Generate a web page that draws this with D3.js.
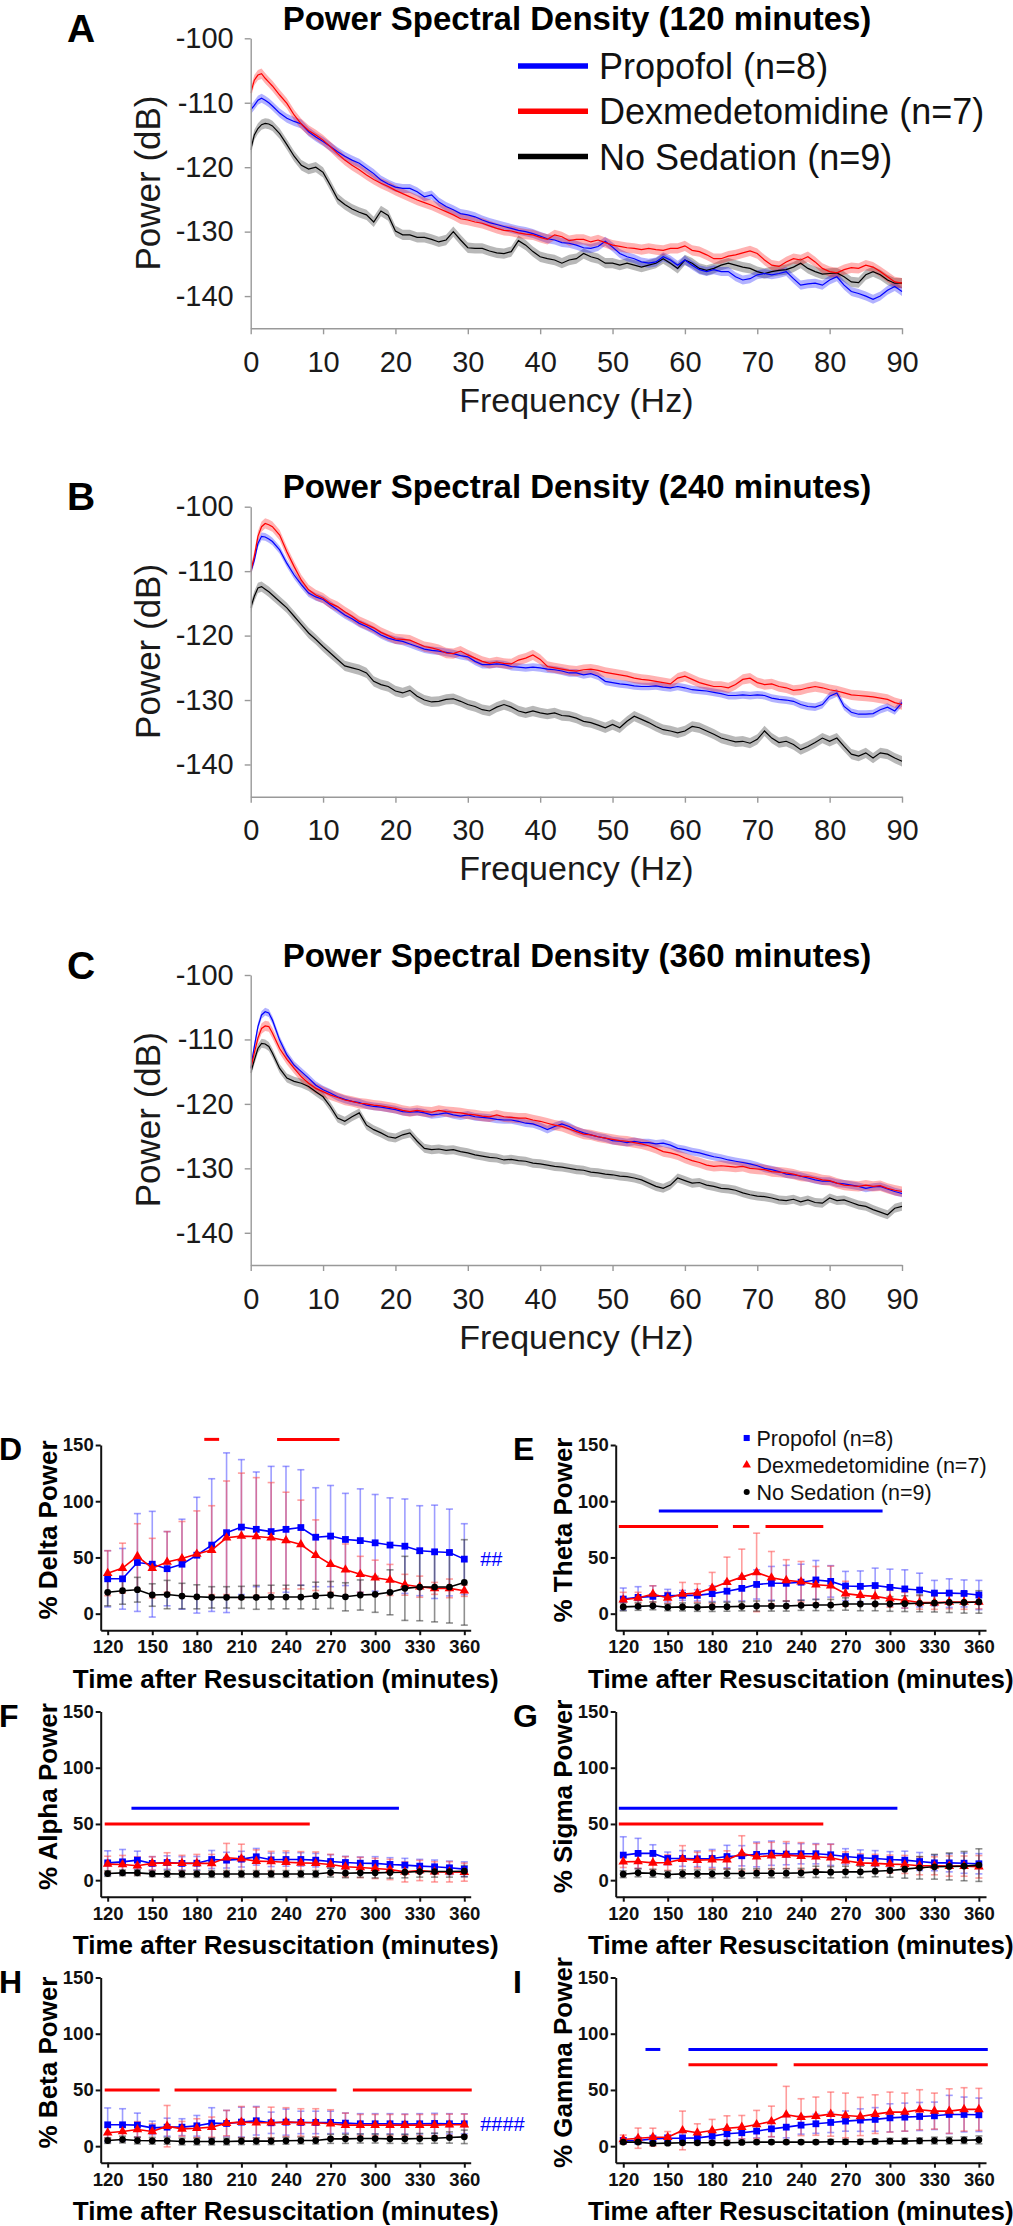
<!DOCTYPE html>
<html><head><meta charset="utf-8">
<script src="https://cdn.jsdelivr.net/npm/d3@7"></script>
<style>body{margin:0;background:#fff}svg{display:block}</style>
</head><body><div id="chart"></div>
<script>
const FONT = "'Liberation Sans', Arial, Helvetica, sans-serif";

// ---------- PSD data ----------
const freqs = [0,0.5,1,1.5,2,2.5,3,4,5,6,7,8,9,10,11,12,13,14,15,16,17,18,19,20,21,22,23,24,25,26,27,28,29,30,31,32,33,34,35,36,37,38,39,40,41,42,43,44,45,46,47,48,49,50,51,52,53,54,55,56,57,58,59,60,61,62,63,64,65,66,67,68,69,70,71,72,73,74,75,76,77,78,79,80,81,82,83,84,85,86,87,88,89,90];
const psdXTicks = [0,10,20,30,40,50,60,70,80,90];
const psdYTicks = [-100,-110,-120,-130,-140];
const groupNames = ["Propofol (n=8)", "Dexmedetomidine (n=7)", "No Sedation (n=9)"];
const psdTitles = ["Power Spectral Density (120 minutes)", "Power Spectral Density (240 minutes)", "Power Spectral Density (360 minutes)"];

const psdProp120 = [-111.1,-110.4,-109.6,-109.3,-109.6,-110,-110.5,
-111.6,-112.4,-112.9,-113.3,-114.5,-115.3,-116,
-116.8,-117.6,-118.3,-118.9,-119.4,-120.2,-121,-122,-122.6,-123.1,
-123.3,-123.3,-123.8,-124.6,-124.3,-125.4,-126.1,-126.6,-127.2,-127.4,
-127.7,-128.2,-128.6,-128.9,-129.2,-129.5,-129.8,-130,-130.3,-130.7,
-131.1,-131.3,-131.7,-131.8,-132.1,-132.5,-132.6,-132.3,-131.5,-132.4,
-133.4,-133.9,-134.2,-134.7,-134.9,-134.7,-133.9,-134.4,-135.2,-134.4,
-135.2,-135.9,-136.2,-135.9,-136.2,-136.2,-137,-137.5,-137.3,-136.7,
-136.5,-136.7,-136.5,-136.2,-137.3,-138.3,-138.1,-138,-138.3,-137.5,
-137,-138.3,-139.3,-139.6,-140,-140.5,-140,-139.1,-138.5,-139.3];
const psdDex120 = [-108.5,-106.5,-105.7,-105.5,-106.2,-106.8,-107.4,
-108.8,-110.1,-111.9,-113.3,-114.3,-115,-115.8,
-116.8,-117.9,-118.9,-119.7,-120.4,-121.2,-121.9,-122.5,-123,-123.6,
-124.1,-124.6,-125.1,-125.5,-125.9,-126.4,-126.9,-127.4,-128,-128.2,
-128.5,-128.7,-129.1,-129.5,-129.8,-129.9,-130.2,-130.4,-130.5,-130.9,
-131.2,-130.5,-130.8,-131.4,-131.2,-131.2,-131.6,-131.3,-131.7,-132.1,
-132.3,-132.5,-132.6,-132.8,-132.6,-132.8,-132.9,-132.6,-132.6,-132.2,
-132.9,-133.1,-133.6,-134.2,-134.2,-133.8,-133.6,-133.3,-133,-133.4,
-134.4,-135.2,-135.4,-134.7,-134.2,-134.4,-133.9,-134.7,-135.7,-136.2,
-136.4,-135.9,-135.6,-135.7,-135.2,-135.5,-136.2,-137,-137.8,-138];
const psdNoSed120 = [-117.3,-115,-114,-113.4,-113.2,-113.3,-113.6,
-114.8,-116.5,-118.3,-119.7,-120.3,-120,-120.8,
-122.8,-124.9,-125.8,-126.5,-127,-127.4,-128.5,-126.8,-127.5,-129.9,
-130.5,-130.5,-130.9,-130.9,-131.2,-131.6,-131.3,-130,-131.3,-132.5,
-132.6,-132.6,-133,-133.3,-133.4,-133.1,-131.4,-132.1,-133.1,-133.9,
-134.2,-134.4,-134.9,-134.4,-134.2,-133.4,-133.9,-134.2,-134.9,-134.9,
-135.2,-134.9,-135.2,-135.5,-135.2,-134.9,-134.2,-134.9,-135.7,-134.4,
-134.9,-135.7,-136,-135.7,-135.2,-134.9,-135.2,-135.5,-135.7,-136.2,
-136.5,-136.2,-136,-135.9,-135.5,-134.9,-135.7,-136.2,-136.6,-136.5,
-136.4,-137,-137.8,-137.9,-136.7,-136.2,-136.7,-137.5,-138,-138];

const psdProp240 = [-110.1,-108.3,-105.7,-104.6,-104.7,-105,-105.4,
-106.7,-108.8,-110.6,-112.1,-113.4,-114,-114.4,
-115.2,-116,-116.8,-117.4,-118.1,-118.6,-119.2,-119.9,-120.4,-120.7,
-120.9,-121.3,-121.7,-122.1,-122.3,-122.4,-122.6,-122.8,-123.1,-123.3,
-124,-124.5,-124.5,-124.4,-124.5,-124.8,-124.9,-125,-124.9,-125,
-125.2,-125.3,-125.5,-125.8,-125.8,-126.1,-125.9,-126.3,-127.1,-127.3,
-127.5,-127.6,-127.8,-127.9,-127.9,-127.8,-128,-128.1,-127.9,-128.1,
-128.4,-128.5,-128.6,-128.8,-129,-129.3,-129.3,-129.2,-129.3,-129.2,
-129.3,-129.7,-129.9,-130,-130.2,-130.7,-131,-131.1,-130.7,-129.4,
-128.9,-131,-131.9,-132.2,-132.2,-132.1,-131.5,-131.1,-131.7,-130.4];
const psdDex240 = [-110.1,-107.7,-104.6,-103.1,-102.6,-102.8,-103.1,
-104.4,-107,-109.3,-111.4,-112.9,-113.7,-114.2,
-115,-115.5,-116.3,-117,-117.8,-118.3,-118.8,-119.5,-120,-120.5,
-120.6,-120.7,-121.2,-121.7,-121.9,-122.2,-122.7,-122.8,-122.4,-123,
-123.5,-124,-124.3,-124.1,-124.3,-124.4,-123.8,-123.5,-123,-123.7,
-124.8,-125,-125.2,-125.4,-125.5,-125.3,-125.2,-125.4,-125.7,-125.9,
-126.1,-126.3,-126.6,-126.8,-126.9,-127.1,-127.3,-127.5,-126.6,-126.3,
-126.8,-127.3,-127.6,-127.9,-127.9,-128.1,-127.6,-126.8,-126.6,-127.3,
-127.6,-127.5,-127.9,-128.1,-128.5,-128.4,-128.1,-127.9,-128.1,-128.4,
-128.6,-128.9,-129.2,-129.3,-129.4,-129.5,-129.7,-129.9,-130.4,-130.7];
const psdNoSed240 = [-115.7,-113.9,-112.6,-112.4,-112.8,-113.2,-113.7,
-114.7,-115.7,-117,-118.3,-119.6,-120.6,-121.7,
-122.7,-123.7,-124.7,-125,-125.3,-125.8,-127.1,-127.6,-127.9,-128.6,
-128.9,-128.5,-129.4,-130,-130.3,-130.2,-129.9,-129.8,-130.2,-130.7,
-131,-131.5,-131.7,-131.1,-130.7,-131.1,-131.7,-132,-131.7,-132,
-132.2,-132,-132.4,-132.5,-132.8,-133.3,-133.5,-133.9,-134.3,-133.8,
-134.3,-133.3,-132.5,-133,-133.5,-134.1,-134.6,-134.8,-135.1,-134.8,
-134.1,-134.3,-134.8,-135.3,-135.9,-136.2,-136.5,-136.4,-136.7,-136.1,
-134.8,-135.9,-136.6,-136.4,-136.9,-137.7,-137.2,-136.6,-135.9,-136.4,
-135.9,-137.2,-138.4,-138.7,-138.2,-139,-138.2,-138.4,-139,-139.5];

const psdProp360 = [-114.5,-111.1,-108,-106.2,-105.7,-105.9,-107,
-110.1,-112.4,-114,-115,-116,-117.1,-117.8,
-118.3,-118.9,-119.3,-119.6,-119.8,-120.2,-120.4,-120.5,-120.7,-120.9,
-121.2,-121.3,-121.2,-121.4,-121.7,-121.6,-121.4,-121.7,-121.9,-121.7,
-122,-122.1,-122.2,-122.4,-122.5,-122.5,-122.7,-123,-123.1,-123.5,
-124,-123.5,-123.1,-123.5,-124.1,-124.5,-124.8,-125.1,-125.3,-125.7,
-125.8,-126,-125.8,-126,-126,-126.2,-126.1,-126.4,-126.9,-127.1,
-127.4,-127.6,-127.9,-128.2,-128.4,-128.7,-128.9,-129.1,-129.3,-129.6,
-130,-130.2,-130.5,-130.9,-131,-131.2,-131.5,-131.8,-132,-132,
-132.3,-132.4,-132.6,-132.8,-133.1,-132.9,-132.8,-133.2,-133.6,-133.9];
const psdDex360 = [-114.5,-112.1,-109.8,-108.3,-107.9,-108,-109,
-111.4,-113.1,-114.5,-115.8,-116.8,-117.6,-118.1,
-118.6,-119,-119.4,-119.6,-119.9,-120,-120.2,-120.3,-120.5,-120.7,
-121,-121.2,-121,-121.2,-121.3,-121,-121.2,-121.3,-121.4,-121.6,
-121.7,-121.9,-122,-121.7,-122,-122.1,-122.2,-122.2,-122.5,-122.7,
-123,-123.3,-123.5,-123.9,-124.3,-124.7,-124.8,-125.1,-125.3,-125.5,
-125.7,-125.8,-126,-126.2,-126.5,-126.9,-127.4,-127.6,-127.9,-128.4,
-128.8,-129.1,-129.5,-129.7,-129.6,-129.7,-129.8,-129.7,-130,-130.1,
-130.2,-130.5,-130.6,-130.7,-130.9,-131.2,-131.3,-131.5,-131.8,-131.9,
-132.3,-132.6,-132.7,-132.8,-132.6,-132.8,-132.7,-133.1,-133.4,-133.6];
const psdNoSed360 = [-115.2,-113.2,-111.4,-110.6,-110.7,-111.1,-112.1,
-114.5,-116,-116.5,-116.8,-117.3,-118.1,-118.9,
-120.4,-122.2,-122.7,-122,-121.4,-123.3,-124,-124.5,-125.1,-125.3,
-124.8,-124.5,-125.8,-126.9,-127.1,-127,-127.2,-127.1,-127.4,-127.6,
-127.9,-128.1,-128.3,-128.4,-128.7,-128.6,-128.8,-128.9,-129.2,-129.3,
-129.5,-129.7,-129.8,-130,-130.2,-130.3,-130.6,-130.7,-130.9,-131,
-131.2,-131.3,-131.5,-131.8,-132.3,-132.8,-133.1,-132.6,-131.5,-131.9,
-132.3,-132.2,-132.6,-132.8,-133.1,-133.2,-133.4,-133.8,-134.1,-134.3,
-134.4,-134.6,-134.9,-135,-134.8,-135.2,-134.9,-135.3,-135.4,-134.6,
-135,-134.9,-135.3,-135.7,-135.9,-136.4,-136.8,-137.2,-136.2,-135.9];

// SEM half-width of shaded band (dB) per time point: [120, 240, 360]
const psdSemProp = [0.7, 0.6, 0.6];
const psdSemDex = [0.8, 0.8, 0.8];
const psdSemNoSed = [0.8, 0.8, 0.7];

// ---------- band power data ----------
const timePoints = [120,130,140,150,160,170,180,190,200,210,220,230,240,250,260,270,280,290,300,310,320,330,340,350,360];
const bandXTicks = [120,150,180,210,240,270,300,330,360];
const bandYTicks = [0,50,100,150];

const deltaPropMean = [31,31,45.5,44,40,44,52,61,72,77,75,73,75,76.6,68,69,66,65,63,61,60,56,55,54.4,48.5];
const deltaPropSD = [25,27,43.5,47,33,40,51.5,59,71,60,51,58,56,51.4,44,45,41,46,43,42,42,40,41.5,38.6,31.5];
const deltaDexMean = [36,40.5,51,40.5,46,49,53,56.5,67.5,69,68.6,67.5,65,61.5,52,44,39,35,32,30,25.7,24,22.5,22.5,20.4];
const deltaDexSD = [20,22.2,29,26.5,27,33,38.4,39.5,50.5,56,52.4,49.1,43,39.5,31.4,25,23,16,15.6,13.8,9.3,9.4,5.3,8.3,5];
const deltaNoSedMean = [19,20.4,21.3,16.6,17,15.7,15,14.5,14.5,14.5,14.5,14.8,14.8,14.8,16,16.6,15,16.6,17.2,19,22.5,23.7,23.7,23.7,27.8];
const deltaNoSedSD = [12,12,11,10,12.6,11.3,10.7,9.5,9.5,9.8,10.6,10.5,10.5,10.5,12,12,12.5,13.4,16,20,28.5,30,31,32,38];

const thetaPropMean = [13,14.5,15.4,16,16.3,16.3,17.8,20,22.5,26,27,27,28,30,28.7,24.6,24.3,25,23.4,22,21,18.3,18.3,18,16.6];
const thetaPropSD = [9.8,9.5,9.4,5.6,4.4,5,7,9,11,13,15,16,16,17.3,14,13,13.7,15.5,16.2,17,15,11.3,12.7,12,13];
const thetaDexMean = [12.4,14,17.5,14,17.5,18.3,22.8,28,32.5,36.7,32,29.6,28.4,25.7,24.8,17.8,16.3,15.4,13.3,12,10,9.8,10.4,10.4,10.4];
const thetaDexSD = [6.6,5,7.3,5,10.3,8.3,13.9,22.3,24.9,34.9,23.3,18.4,18,16.3,17.5,11,8,8,7.5,7,6,6,6,6.5,6];
const thetaNoSedMean = [6,6.5,7,5.6,6,5.6,6,6.2,6.5,6.8,6.8,6.8,7.4,7.7,7.7,8.6,8.6,8.6,8.6,8.9,9.2,9.5,10,10,10.4];
const thetaNoSedSD = [3.5,3.5,3.5,3,3.5,3.5,4,4,4,4.5,4.5,4.5,4.5,5,5,5.5,6,6,6.5,7,7.5,8,9,9.5,10];

const alphaPropMean = [15.4,16.3,17.8,14.9,15.7,14.9,15.1,18.4,17.8,18.7,20.8,18.1,18.4,18.4,17.8,16.6,15.7,15.1,14.9,14,13.4,12.5,11.9,11,9.8];
const alphaPropSD = [10.7,11,8,6,6,6,6,8,7,7,7.4,6,6,6,6,6,5.5,5.5,6,6,6,6,6,6,6.5];
const alphaDexMean = [14.3,14,12.8,14.9,15.4,15.1,14.9,14.9,19.9,19,16.9,16.6,16,15.4,15.1,14,11.9,11.3,10.4,9.5,7.4,8.6,7.4,7.4,7.1];
const alphaDexSD = [7,8,8,6,9,7,8,8,12.8,13,10,9,10,10,10,9,9,9,9,9,9,9,9,9,8];
const alphaNoSedMean = [5.9,6.5,6.5,5.6,5.6,5.5,5.5,5.5,5.5,5.5,5.5,5.5,5.5,5.5,5.5,6.8,6.2,6.5,6.5,6.8,7.1,7.7,7.7,7.7,8];
const alphaNoSedSD = [2.5,2.5,2.5,2.5,3,3,3,3,3,3,3,3,3,3,3,4,4,4,4.5,5,5,5,5,5,5];

const sigmaPropMean = [22.3,23.8,23.8,19.3,19.3,19,19.3,21,21.7,22.9,24,23.2,23.5,23.5,22.6,21,19.9,19.3,18.4,17.8,16.6,15.4,15.4,15.1,14.6];
const sigmaPropSD = [16.3,13.4,7.7,5.7,7,7,8,10,9,11,10.8,9.5,9,9,9.5,7,7,7,7,8,8,7,8,9,9];
const sigmaDexMean = [16.3,16.6,15.4,15.7,18.7,17.8,18.1,18.1,23.8,20.8,21.7,22.3,21.4,20.8,19.9,17.2,15.4,14.9,14.3,14,12.8,12.8,12.5,12.5,11.9];
const sigmaDexSD = [5,6,6,7,12,7,8,8,15.7,12,12,12,12,11,12,8,8,8,8,8,8,8,9,9,10];
const sigmaNoSedMean = [5.3,6.5,6.2,5,5.6,5.6,5.6,5.9,5.9,6.2,6.2,6.2,6.5,7.4,7.1,7.4,7.4,8,8.6,9.8,11,11.9,12.2,12.5,13.4];
const sigmaNoSedSD = [3,3.5,3.5,3,3.5,3.5,3.5,4,4,4,4,4,4,5,5,5,5,5,6,8,10,11,12,13,14.5];

const betaPropMean = [19,19,18.7,16.3,16.9,16.9,18.1,20.5,20.2,21.4,22.6,20.8,21.4,21.1,21.1,21.1,20.5,19.9,19.9,19.9,19.6,19.9,20.2,19.9,19.9];
const betaPropSD = [15,14.3,10.7,6,8,7.5,9.2,13.7,11.6,13.3,12.7,9.5,11.6,10,10,10,9,9,9,9,9,9,9,9,8.9];
const betaDexMean = [11.9,13,14.8,13,17.8,15.4,16,16.9,20.5,21.4,20.8,20.8,21.4,21.1,20.8,19.9,18.7,18.7,18.7,18.7,18.7,18.7,18.7,19,19];
const betaDexSD = [5,7,7,7,18.4,6.6,8.4,9,11.3,13.9,13.9,13.9,12.8,12.2,12.5,12.5,10.7,9.5,9.5,9.5,9.5,9.5,9.5,9.5,9.5];
const betaNoSedMean = [5,5.9,5,4.8,4.8,4.2,4.2,4.2,4.2,4.5,4.5,4.5,4.8,5,5,6.5,6.5,6.8,6.8,6.5,6.5,6.8,7.1,7.7,8.3];
const betaNoSedSD = [2.5,3,3,3,3,3,3,3,3,3,3,3,3,3,3,4,4,4,4,4,4,4.5,4.5,5,6];

const gammaPropMean = [5,5,6.5,7.1,7.1,7.4,8.9,11,11.9,13.4,15.4,16.9,18.7,19.9,21.1,22.3,23.2,23.8,25.2,25.8,26.4,27,28.2,28.2,27.9];
const gammaPropSD = [2.5,3,3,3,3.5,4,4.5,5,5.5,6,7,9.5,8,8.5,9,9,10,10.5,12.5,12.5,12.5,12.2,17,15.5,14.9];
const gammaDexMean = [5.9,7.1,8,8,14,11.9,14,16,16.9,19.3,22,27.9,25.8,26.7,28.5,27.3,26.4,28.5,30.3,30.3,32.4,31.2,31.2,32.7,32.7];
const gammaDexSD = [4,9,8,5,17.2,8,9.8,11,10.4,12.5,13.6,25.3,16.4,17,19.6,19.9,17,17.2,17.8,16.9,17.8,16,19.8,19.3,18.7];
const gammaNoSedMean = [3.6,3.6,2.4,2.7,3,3,3,3,3.3,3.6,3.6,3.6,3.6,3.6,3.9,3.9,3.9,4.2,4.5,4.5,4.8,5,5,5.3,5.6];
const gammaNoSedSD = [1.5,1.5,1.5,1.5,1.5,1.5,1.5,1.5,1.5,1.5,1.5,1.5,1.5,1.5,2,2,2,2,2.5,2.5,2.5,3,3,3,3.5];

// significance bars: [group, level (% power), from (min), to (min)]
const sigDelta = [["dex",155,185,195],["dex",155,234,276]];
const sigTheta = [["prop",91.4,144,295],["dex",77.5,117,184],["dex",77.5,194,205],["dex",77.5,216,255]];
const sigAlpha = [["prop",64,136,316],["dex",50,118,256]];
const sigSigma = [["prop",64,117,305],["dex",50,117,255]];
const sigBeta = [["dex",50,118,155],["dex",50,165,274],["dex",50,285,365]];
const sigGamma = [["prop",86,135,145],["prop",86,164,366],["dex",72.5,164,224],["dex",72.5,235,366]];

// ---------- drawing ----------
const COLORS = {prop:"#0000ff", dex:"#ff0000", nosed:"#000000"};
const BANDFILL = {prop:"#0000ff", dex:"#ff0000", nosed:"#000000"};
const svg = d3.select("#chart").append("svg").attr("width",1013).attr("height",2226).style("font-family",FONT);
svg.append("rect").attr("width",1013).attr("height",2226).attr("fill","#fff");

function psdPanel(off, idx, label, showLegend) {
  const g = svg.append("g");
  const x = d3.scaleLinear().domain([0,90]).range([250.7,902]);
  const y = d3.scaleLinear().domain([-145,-100]).range([328.3+off, 38.3+off]);
  const sets = [
    {key:"nosed", vals:[psdNoSed120,psdNoSed240,psdNoSed360][idx], sem:psdSemNoSed[idx]},
    {key:"prop", vals:[psdProp120,psdProp240,psdProp360][idx], sem:psdSemProp[idx]},
    {key:"dex", vals:[psdDex120,psdDex240,psdDex360][idx], sem:psdSemDex[idx]}
  ];
  const clipId = "clip"+idx;
  g.append("clipPath").attr("id",clipId).append("rect")
    .attr("x",x(0)).attr("y",y(-100)-20).attr("width",x(90)-x(0)+3).attr("height",y(-145)-y(-100)+20);
  const plot = g.append("g").attr("clip-path",`url(#${clipId})`);
  sets.forEach(s => {
    const pts = freqs.map((f,j)=>({f, m:s.vals[j]}));
    plot.append("path").datum(pts)
      .attr("d", d3.area().x(d=>x(d.f)).y0(d=>y(d.m - s.sem)).y1(d=>y(d.m + s.sem)))
      .attr("fill", BANDFILL[s.key]).attr("fill-opacity", s.key==="nosed"?0.28:0.3);
  });
  sets.forEach(s => {
    const pts = freqs.map((f,j)=>({f, m:s.vals[j]}));
    plot.append("path").datum(pts)
      .attr("d", d3.line().x(d=>x(d.f)).y(d=>y(d.m)))
      .attr("fill","none").attr("stroke", COLORS[s.key]).attr("stroke-width",1.2);
  });
  const xa = g.append("g").attr("transform",`translate(0,${y(-145)})`)
    .call(d3.axisBottom(x).tickValues(psdXTicks).tickSize(6).tickSizeOuter(0).tickPadding(17).tickFormat(d=>String(d)));
  const ya = g.append("g").attr("transform",`translate(${x(0)},0)`)
    .call(d3.axisLeft(y).tickValues(psdYTicks).tickSize(6).tickSizeOuter(0).tickPadding(11).tickFormat(d=>String(d)));
  [xa,ya].forEach(a=>{
    a.select(".domain").attr("stroke","#999").attr("stroke-width",1.4);
    a.selectAll(".tick line").attr("stroke","#999").attr("stroke-width",1.4);
    a.selectAll(".tick text").attr("fill","#1a1a1a").style("font-size","29px").style("font-family",FONT);
  });
  g.append("text").attr("x",577).attr("y",30+off).attr("text-anchor","middle")
    .style("font-size","33px").style("font-weight","bold").text(psdTitles[idx]);
  g.append("text").attr("x",67).attr("y",42+off).style("font-size","39px").style("font-weight","bold").text(label);
  g.append("text").attr("x",(x(0)+x(90))/2).attr("y",412+off).attr("text-anchor","middle")
    .attr("fill","#1a1a1a").style("font-size","34px").text("Frequency (Hz)");
  g.append("text").attr("transform",`translate(160,${183+off}) rotate(-90)`).attr("text-anchor","middle")
    .attr("fill","#1a1a1a").style("font-size","35px").text("Power (dB)");
  if (showLegend) {
    const keys = ["prop","dex","nosed"];
    keys.forEach((k,i)=>{
      const ly = 66 + i*45.3;
      g.append("line").attr("x1",518).attr("x2",588).attr("y1",ly).attr("y2",ly)
        .attr("stroke",COLORS[k]).attr("stroke-width",5.5);
      g.append("text").attr("x",599).attr("y",ly+13).attr("fill","#111").style("font-size","36px").text(groupNames[i]);
    });
  }
}

psdPanel(0, 0, "A", true);
psdPanel(468.4, 1, "B", false);
psdPanel(936.7, 2, "C", false);

const cols = [
  {xr:[100.7,470.7], xd:[115.3,364.3], labelX:-1, yTitleX:56.5},
  {xr:[615.7,986], xd:[114.9,364.8], labelX:513, yTitleX:571.5}
];
const rowTops = [1445, 1711.5, 1977.5];
const sym = {prop:d3.symbolSquare, dex:d3.symbolTriangle, nosed:d3.symbolCircle};
const symSize = {prop:46, dex:40, nosed:36};

function bandPanel(col, row, label, yTitle, groups, sig, hash, legend) {
  const C = cols[col], top = rowTops[row];
  const g = svg.append("g");
  const x = d3.scaleLinear().domain(C.xd).range(C.xr);
  const y = d3.scaleLinear().domain([-14.7,150]).range([top+185.2, top]);
  sig.forEach(s=>{
    g.append("line").attr("x1",x(s[2])).attr("x2",x(s[3])).attr("y1",y(s[1])).attr("y2",y(s[1]))
      .attr("stroke",COLORS[s[0]]).attr("stroke-width",3);
  });
  const errCol = {prop:"#4d4dff", dex:"#ff4d4d", nosed:"#333"};
  groups.forEach(gr=>{
    const eg = g.append("g").attr("stroke",errCol[gr.key]).attr("stroke-opacity",0.55).attr("stroke-width",1.6);
    timePoints.forEach((t,i)=>{
      const m = gr.mean[i], s = gr.sd[i];
      eg.append("line").attr("x1",x(t)).attr("x2",x(t)).attr("y1",y(m-s)).attr("y2",y(m+s));
      eg.append("line").attr("x1",x(t)-3.5).attr("x2",x(t)+3.5).attr("y1",y(m+s)).attr("y2",y(m+s));
      eg.append("line").attr("x1",x(t)-3.5).attr("x2",x(t)+3.5).attr("y1",y(m-s)).attr("y2",y(m-s));
    });
  });
  groups.forEach(gr=>{
    const pts = timePoints.map((t,i)=>({t, m:gr.mean[i]}));
    g.append("path").datum(pts).attr("d", d3.line().x(d=>x(d.t)).y(d=>y(d.m)))
      .attr("fill","none").attr("stroke",COLORS[gr.key]).attr("stroke-width",1.6);
    g.selectAll(null).data(pts).enter().append("path")
      .attr("transform", d=>`translate(${x(d.t)},${y(d.m)})`)
      .attr("d", d3.symbol(sym[gr.key], symSize[gr.key])())
      .attr("fill",COLORS[gr.key]);
  });
  const xa = g.append("g").attr("transform",`translate(0,${y(-14.7)})`)
    .call(d3.axisBottom(x).tickValues(bandXTicks).tickSize(5).tickSizeOuter(0).tickPadding(5).tickFormat(d=>String(d)));
  const ya = g.append("g").attr("transform",`translate(${C.xr[0]},0)`)
    .call(d3.axisLeft(y).tickValues(bandYTicks).tickSize(5).tickSizeOuter(0).tickPadding(2).tickFormat(d=>String(d)));
  [xa,ya].forEach(a=>{
    a.select(".domain").attr("stroke","#111").attr("stroke-width",2);
    a.selectAll(".tick line").attr("stroke","#111").attr("stroke-width",2);
    a.selectAll(".tick text").attr("fill","#111").style("font-size","18.5px").style("font-weight","bold").style("font-family",FONT);
  });
  g.append("text").attr("x",(C.xr[0]+C.xr[1])/2).attr("y",y(-14.7)+57.3).attr("text-anchor","middle")
    .style("font-size","26px").style("font-weight","bold").text("Time after Resuscitation (minutes)");
  g.append("text").attr("transform",`translate(${C.yTitleX},${top+85}) rotate(-90)`).attr("text-anchor","middle")
    .style("font-size","26px").style("font-weight","bold").text(yTitle);
  g.append("text").attr("x",C.labelX).attr("y",top+15).style("font-size","32px").style("font-weight","bold").text(label);
  if (hash) {
    const pm = groups.find(d=>d.key==="prop").mean;
    g.append("text").attr("x",C.xr[1]+9.5).attr("y",y(pm[pm.length-1])).attr("dy","0.35em")
      .attr("fill","#0000ff").style("font-size","20px").text(hash);
  }
  if (legend) {
    ["prop","dex","nosed"].forEach((k,i)=>{
      const ly = top - 7 + i*27;
      g.append("path").attr("transform",`translate(746.7,${ly})`)
        .attr("d", d3.symbol(sym[k], symSize[k]*0.8)()).attr("fill",COLORS[k]);
      g.append("text").attr("x",756.5).attr("y",ly+7.8).style("font-size","21.5px").attr("fill","#111").text(groupNames[i]);
    });
  }
}

function grp(pm,psd,dm,dsd,nm,nsd){
  return [{key:"prop",mean:pm,sd:psd},{key:"dex",mean:dm,sd:dsd},{key:"nosed",mean:nm,sd:nsd}];
}
bandPanel(0,0,"D","% Delta Power", grp(deltaPropMean,deltaPropSD,deltaDexMean,deltaDexSD,deltaNoSedMean,deltaNoSedSD), sigDelta, "##", false);
bandPanel(1,0,"E","% Theta Power", grp(thetaPropMean,thetaPropSD,thetaDexMean,thetaDexSD,thetaNoSedMean,thetaNoSedSD), sigTheta, null, true);
bandPanel(0,1,"F","% Alpha Power", grp(alphaPropMean,alphaPropSD,alphaDexMean,alphaDexSD,alphaNoSedMean,alphaNoSedSD), sigAlpha, null, false);
bandPanel(1,1,"G","% Sigma Power", grp(sigmaPropMean,sigmaPropSD,sigmaDexMean,sigmaDexSD,sigmaNoSedMean,sigmaNoSedSD), sigSigma, null, false);
bandPanel(0,2,"H","% Beta Power", grp(betaPropMean,betaPropSD,betaDexMean,betaDexSD,betaNoSedMean,betaNoSedSD), sigBeta, "####", false);
bandPanel(1,2,"I","% Gamma Power", grp(gammaPropMean,gammaPropSD,gammaDexMean,gammaDexSD,gammaNoSedMean,gammaNoSedSD), sigGamma, null, false);
</script>
</body></html>
